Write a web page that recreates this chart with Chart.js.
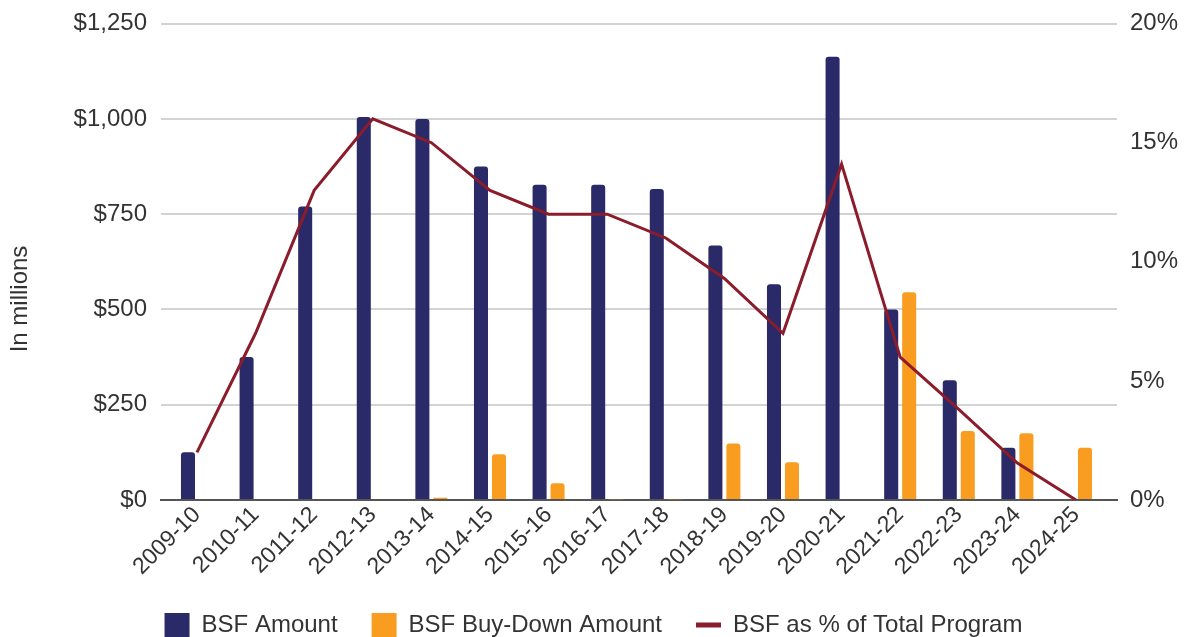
<!DOCTYPE html>
<html>
<head>
<meta charset="utf-8">
<script src="https://cdn.jsdelivr.net/npm/chart.js@4.4.1/dist/chart.umd.min.js"></script>
<style>
  html, body { margin: 0; padding: 0; background: #ffffff; }
  #wrap { width: 1187px; height: 637px; position: relative; }
</style>
</head>
<body>
<div id="wrap"><canvas id="c" width="1187" height="637"></canvas></div>
<script>
const categories = ['2009-10','2010-11','2011-12','2012-13','2013-14','2014-15','2015-16','2016-17','2017-18','2018-19','2019-20','2020-21','2021-22','2022-23','2023-24','2024-25'];
const bsfAmount = [125, 375, 770, 1005, 1000, 875, 827, 827, 816, 668, 566, 1163, 500, 314, 137, 0];
const buyDownAmount = [0, 0, 0, 0, 6, 120, 44, 2, 2, 148, 99, 0, 545, 181, 175, 137];
const pctOfTotal = [2.0, 7.0, 13.0, 16.0, 15.0, 13.0, 12.0, 12.0, 11.0, 9.3, 7.0, 14.1, 6.0, 3.8, 1.55, 0];
const leftTicks = [0, 250, 500, 750, 1000, 1250];
const rightTicks = [0, 5, 10, 15, 20];

const FONT = "'Liberation Sans', Arial, sans-serif";
const TEXT = '#333333';

const yTitlePlugin = {
  id: 'yTitle',
  afterDraw(chart) {
    const ctx = chart.ctx;
    ctx.save();
    ctx.translate(20, 299);
    ctx.rotate(-Math.PI / 2);
    ctx.font = '24px ' + FONT;
    ctx.fillStyle = TEXT;
    ctx.textAlign = 'center';
    ctx.textBaseline = 'middle';
    ctx.fillText('In millions', 0, 0);
    ctx.restore();
  }
};

const toPoints = arr => arr.map((v, i) => ({ x: i, y: v }));

new Chart(document.getElementById('c'), {
  data: {
    datasets: [
      {
        type: 'bar',
        label: 'BSF Amount',
        data: toPoints(bsfAmount),
        backgroundColor: '#2a2a69',
        borderRadius: { topLeft: 3, topRight: 3 },
        borderSkipped: 'bottom',
        categoryPercentage: 0.614,
        barPercentage: 0.78,
        yAxisID: 'y',
        order: 2
      },
      {
        type: 'bar',
        label: 'BSF Buy-Down Amount',
        data: toPoints(buyDownAmount),
        backgroundColor: '#f89d20',
        borderRadius: { topLeft: 3, topRight: 3 },
        borderSkipped: 'bottom',
        categoryPercentage: 0.614,
        barPercentage: 0.78,
        yAxisID: 'y',
        order: 2
      },
      {
        type: 'line',
        label: 'BSF as % of Total Program',
        data: toPoints(pctOfTotal),
        borderColor: '#8b1c2b',
        backgroundColor: '#8b1c2b',
        borderWidth: 3,
        pointRadius: 0,
        tension: 0,
        yAxisID: 'y1',
        order: 1
      }
    ]
  },
  options: {
    responsive: false,
    animation: false,
    layout: { padding: { top: 23, left: 0, right: 0, bottom: -10 } },
    plugins: {
      tooltip: { enabled: false },
      legend: {
        position: 'bottom',
        labels: {
          font: { family: FONT, size: 24 },
          color: TEXT,
          usePointStyle: true,
          pointStyleWidth: 25,
          padding: 34,
          sort: (a, b) => a.datasetIndex - b.datasetIndex,
          generateLabels(chart) {
            const items = Chart.defaults.plugins.legend.labels.generateLabels(chart);
            items.forEach(it => {
              if (it.datasetIndex === 2) {
                it.pointStyle = 'line';
                it.lineWidth = 5;
                it.strokeStyle = '#8b1c2b';
              } else {
                it.pointStyle = 'rect';
                it.lineWidth = 0;
              }
            });
            return items;
          }
        }
      }
    },
    scales: {
      x: {
        type: 'linear',
        offset: false,
        min: -0.614,
        max: 15.70,
        afterBuildTicks(scale) { scale.ticks = categories.map((_, i) => ({ value: i })); },
        grid: { display: false, drawTicks: false, offset: false },
        border: { display: true, color: '#555555', width: 2 },
        ticks: {
          font: { family: FONT, size: 23, lineHeight: 1 },
          color: TEXT,
          maxRotation: 45,
          minRotation: 45,
          padding: 3,
          autoSkip: false,
          callback: v => categories[v]
        },
        afterFit(scale) { scale.height = 79; }
      },
      y: {
        type: 'linear',
        position: 'left',
        min: 0,
        max: 1250,
        afterBuildTicks(scale) { scale.ticks = leftTicks.map(v => ({ value: v })); },
        grid: { color: '#d3d3d3', lineWidth: 2, drawTicks: false },
        border: { display: false },
        ticks: {
          font: { family: FONT, size: 24, lineHeight: 0.8 },
          color: TEXT,
          padding: 14,
          callback: v => '$' + Number(v).toLocaleString('en-US')
        },
        afterFit(scale) { scale.width = 161; }
      },
      y1: {
        type: 'linear',
        position: 'right',
        min: 0,
        max: 20,
        afterBuildTicks(scale) { scale.ticks = rightTicks.map(v => ({ value: v })); },
        grid: { display: false, drawTicks: false },
        border: { display: false },
        ticks: {
          font: { family: FONT, size: 24, lineHeight: 0.8 },
          color: TEXT,
          padding: 13,
          callback: v => v + '%'
        },
        afterFit(scale) { scale.width = 70; }
      }
    }
  },
  plugins: [yTitlePlugin]
});
</script>
</body>
</html>
